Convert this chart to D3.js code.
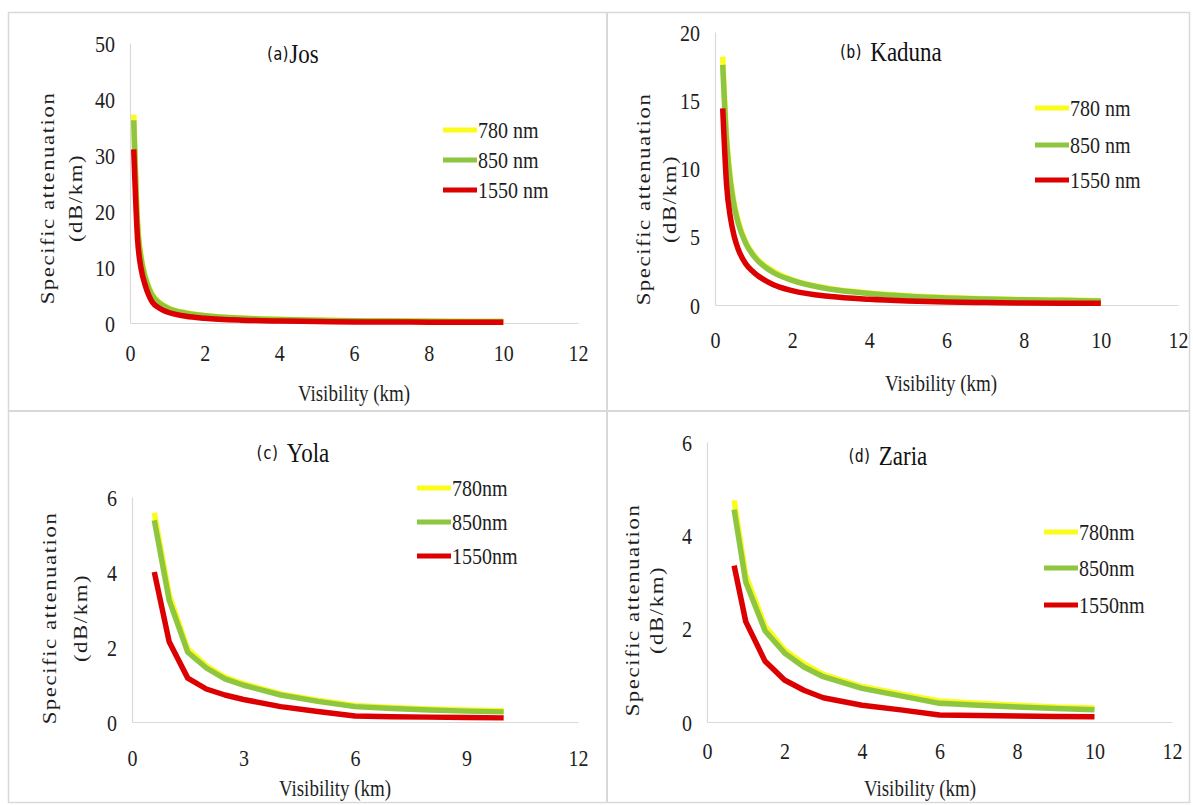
<!DOCTYPE html>
<html>
<head>
<meta charset="utf-8">
<script src="https://cdn.jsdelivr.net/npm/d3@7"></script>
<style>
  body { margin: 0; background: #fff; }
  svg { display: block; }
  .serif { font-family: "Liberation Serif", "DejaVu Serif", serif; }
  .mono { font-family: "DejaVu Sans Mono", "Liberation Mono", monospace; }
</style>
</head>
<body>
<div id="container"></div>
<script>
// Data (visibility in km, attenuation in dB/km)
const josVis = [0.1, 0.2, 0.3, 0.4, 0.5, 0.6, 0.8, 1, 1.5, 2, 3, 4, 5, 6, 7, 8, 9, 10];
const jos780 = [37.2, 18.3, 11.8, 8.6, 6.5, 5.1, 3.65, 2.8, 1.82, 1.35, 0.88, 0.65, 0.52, 0.42, 0.36, 0.32, 0.29, 0.27];
const jos850 = [36.2, 17.8, 11.4, 8.3, 6.3, 4.9, 3.5, 2.7, 1.75, 1.3, 0.85, 0.62, 0.5, 0.4, 0.34, 0.3, 0.27, 0.25];
const jos1550 = [31, 15.2, 9.6, 6.9, 5.0, 3.7, 2.6, 1.95, 1.2, 0.85, 0.5, 0.35, 0.27, 0.2, 0.17, 0.15, 0.13, 0.12];

const kadVis = [0.2, 0.3, 0.4, 0.5, 0.6, 0.8, 1, 1.5, 2, 3, 4, 5, 6, 7, 8, 9, 10];
const kad780 = [18.2, 12.4, 9.3, 7.4, 6.2, 4.6, 3.7, 2.5, 1.85, 1.2, 0.88, 0.68, 0.55, 0.46, 0.4, 0.36, 0.32];
const kad850 = [17.6, 12, 9, 7.2, 6.0, 4.5, 3.6, 2.4, 1.8, 1.15, 0.85, 0.65, 0.52, 0.44, 0.38, 0.34, 0.3];
const kad1550 = [14.4, 8.8, 6.4, 5.0, 4.1, 3.0, 2.4, 1.5, 1.05, 0.62, 0.42, 0.3, 0.22, 0.18, 0.15, 0.13, 0.12];

const yolaVis = [0.6, 1, 1.5, 2, 2.5, 3, 4, 5, 6, 7, 8, 9, 10];
const yola780 = [5.58, 3.4, 1.95, 1.5, 1.2, 1.02, 0.75, 0.58, 0.44, 0.39, 0.35, 0.32, 0.3];
const yola850 = [5.38, 3.25, 1.86, 1.44, 1.15, 0.98, 0.72, 0.55, 0.41, 0.36, 0.32, 0.29, 0.27];
const yola1550 = [4.0, 2.14, 1.17, 0.88, 0.72, 0.6, 0.41, 0.28, 0.16, 0.14, 0.13, 0.12, 0.11];

const zariaVis = [0.7, 1, 1.5, 2, 2.5, 3, 4, 5, 6, 7, 8, 9, 10];
const zaria780 = [4.75, 3.15, 2.05, 1.55, 1.25, 1.02, 0.76, 0.6, 0.45, 0.4, 0.36, 0.32, 0.3];
const zaria850 = [4.55, 3.0, 1.95, 1.48, 1.18, 0.97, 0.72, 0.56, 0.4, 0.36, 0.32, 0.29, 0.26];
const zaria1550 = [3.35, 2.15, 1.3, 0.9, 0.68, 0.52, 0.36, 0.26, 0.15, 0.14, 0.13, 0.12, 0.11];

// Axis ticks
const xTicksEven = [0, 2, 4, 6, 8, 10, 12];
const xTicksThree = [0, 3, 6, 9, 12];
const yTicksJos = [0, 10, 20, 30, 40, 50];
const yTicksKad = [0, 5, 10, 15, 20];
const yTicksSix = [0, 2, 4, 6];

// Legend labels
const namesSpaced = ["780 nm", "850 nm", "1550 nm"];
const namesTight = ["780nm", "850nm", "1550nm"];

const colors = ["#fbfb1c", "#8fc640", "#dd0000"];
const SY = 1.2; // the source picture is stretched vertically
const textColor = "#1e1e1e";

const panels = [
  { tag: "(a)", city: "Jos", vis: josVis, vals: [jos780, jos850, jos1550], names: namesSpaced,
    xTicks: xTicksEven, yTicks: yTicksJos, yMax: 50, curve: d3.curveMonotoneX,
    x0: 130, x1: 578, y0: 323, y1: 43, title: [292, 53], legend: [443, [130, 160, 190]],
    xLabOff: 30, vlab: [354, 393], yTitleX: [48, 76], yTitleY: 198 },
  { tag: "(b) ", city: "Kaduna", vis: kadVis, vals: [kad780, kad850, kad1550], names: namesSpaced,
    xTicks: xTicksEven, yTicks: yTicksKad, yMax: 20, curve: d3.curveMonotoneX,
    x0: 715, x1: 1178, y0: 305, y1: 32, title: [890, 51], legend: [1035, [108, 145, 180]],
    xLabOff: 35, vlab: [941, 383], yTitleX: [644, 670], yTitleY: 199 },
  { tag: "(c) ", city: "Yola", vis: yolaVis, vals: [yola780, yola850, yola1550], names: namesTight,
    xTicks: xTicksThree, yTicks: yTicksSix, yMax: 6, curve: d3.curveLinear,
    x0: 132, x1: 578, y0: 722, y1: 497, title: [292, 452], legend: [417, [488, 522, 556]],
    xLabOff: 36, vlab: [335, 788], yTitleX: [50, 81], yTitleY: 618 },
  { tag: "(d) ", city: "Zaria", vis: zariaVis, vals: [zaria780, zaria850, zaria1550], names: namesTight,
    xTicks: xTicksEven, yTicks: yTicksSix, yMax: 6, curve: d3.curveLinear,
    x0: 707, x1: 1172, y0: 722, y1: 442, title: [887, 455], legend: [1044, [532, 568, 605]],
    xLabOff: 29, vlab: [920, 788], yTitleX: [633, 657], yTitleY: 610 }
];

const svg = d3.select("#container")
  .append("svg")
  .attr("width", 1193)
  .attr("height", 805);

// Outer frame and dividers
svg.append("rect")
  .attr("x", 8.5).attr("y", 12.5)
  .attr("width", 1181).attr("height", 790)
  .attr("fill", "none").attr("stroke", "#d9d9d9").attr("stroke-width", 1.5);
svg.append("line")
  .attr("x1", 607).attr("x2", 607).attr("y1", 12).attr("y2", 803)
  .attr("stroke", "#d9d9d9").attr("stroke-width", 2);
svg.append("line")
  .attr("x1", 8).attr("x2", 1190).attr("y1", 411).attr("y2", 411)
  .attr("stroke", "#d9d9d9").attr("stroke-width", 2);

function stretched(g, str, x, y, size) {
  return g.append("text")
    .attr("class", "serif")
    .attr("transform", "translate(" + x + "," + y + ") scale(1," + SY + ")")
    .attr("font-size", size)
    .attr("fill", textColor)
    .attr("dominant-baseline", "central")
    .text(str);
}

panels.forEach(function (p) {
  const g = svg.append("g");

  const x = d3.scaleLinear().domain([0, 12]).range([p.x0, p.x1]);
  const y = d3.scaleLinear().domain([0, p.yMax]).range([p.y0, p.y1]);

  // x axis
  const gx = g.append("g")
    .attr("transform", "translate(0," + p.y0 + ")")
    .call(d3.axisBottom(x).tickValues(p.xTicks).tickFormat(d3.format("d")).tickSize(0).tickSizeOuter(0));
  gx.attr("font-family", null);
  gx.select(".domain").attr("stroke", "#d9d9d9").attr("stroke-width", 1.2);
  gx.selectAll(".tick text")
    .attr("class", "serif")
    .attr("y", null).attr("dy", null)
    .attr("transform", "translate(0," + p.xLabOff + ") scale(1," + SY + ")")
    .attr("dominant-baseline", "central")
    .attr("font-size", 20).attr("fill", textColor);

  // y axis
  const gy = g.append("g")
    .attr("transform", "translate(" + p.x0 + ",0)")
    .call(d3.axisLeft(y).tickValues(p.yTicks).tickFormat(d3.format("d")).tickSize(0).tickSizeOuter(0));
  gy.attr("font-family", null);
  gy.select(".domain").attr("stroke", "#d9d9d9").attr("stroke-width", 1.2);
  gy.selectAll(".tick text")
    .attr("class", "serif")
    .attr("x", null).attr("dy", null)
    .attr("transform", "translate(-15,0) scale(1," + SY + ")")
    .attr("dominant-baseline", "central")
    .attr("font-size", 20).attr("fill", textColor);

  // curves: yellow, green, then red on top
  p.vals.forEach(function (vals, k) {
    const line = d3.line()
      .x(function (d, i) { return x(p.vis[i]); })
      .y(function (d) { return y(d); })
      .curve(p.curve);
    g.append("path")
      .datum(vals)
      .attr("d", line)
      .attr("fill", "none")
      .attr("stroke", colors[k])
      .attr("stroke-width", 5.5)
      .attr("stroke-linejoin", "round");
  });

  // title
  const t = g.append("text")
    .attr("transform", "translate(" + p.title[0] + "," + p.title[1] + ") scale(1," + SY + ")")
    .attr("text-anchor", "middle")
    .attr("dominant-baseline", "central")
    .attr("fill", "#111");
  t.append("tspan").attr("class", "mono").attr("font-size", 15).attr("letter-spacing", -1).text(p.tag);
  t.append("tspan").attr("class", "serif").attr("font-size", 23).text(p.city);

  // legend
  p.names.forEach(function (name, k) {
    g.append("line")
      .attr("x1", p.legend[0]).attr("x2", p.legend[0] + 34)
      .attr("y1", p.legend[1][k]).attr("y2", p.legend[1][k])
      .attr("stroke", colors[k]).attr("stroke-width", 5);
    stretched(g, name, p.legend[0] + 35, p.legend[1][k], 20);
  });

  // axis titles
  stretched(g, "Visibility (km)", p.vlab[0], p.vlab[1], 19).attr("text-anchor", "middle");

  [["Specific attenuation", p.yTitleX[0]], ["(dB/km)", p.yTitleX[1]]].forEach(function (d) {
    g.append("text")
      .attr("class", "serif")
      .attr("transform", "translate(" + d[1] + "," + p.yTitleY + ") scale(1," + SY + ") rotate(-90)")
      .attr("text-anchor", "middle")
      .attr("dominant-baseline", "central")
      .attr("font-size", 19)
      .attr("letter-spacing", 1.3)
      .attr("fill", textColor)
      .text(d[0]);
  });
});
</script>
</body>
</html>
